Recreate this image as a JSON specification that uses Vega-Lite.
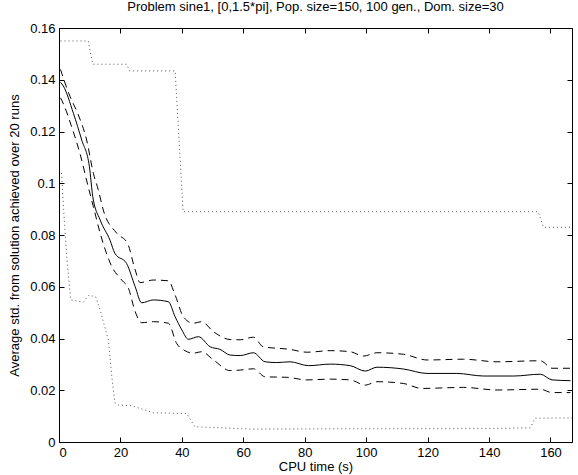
{
  "$schema": "https://vega.github.io/schema/vega-lite/v6.json",
  "autosize": {"type": "none"},
  "padding": {"left": 59, "top": 28, "right": 6, "bottom": 33},
  "width": 513,
  "height": 414,
  "background": "white",
  "title": {"text": "Problem sine1, [0,1.5*pi], Pop. size=150, 100 gen., Dom. size=30", "font": "Liberation Sans", "fontSize": 13, "fontWeight": "normal", "color": "black", "offset": 8},
  "config": {
    "view": {"stroke": "black", "strokeWidth": 1},
    "axis": {"labelFont": "Liberation Sans", "labelFontSize": 13, "labelColor": "black", "titleFont": "Liberation Sans", "titleFontSize": 13, "titleFontWeight": "normal", "titleColor": "black", "grid": false, "domain": false, "tickColor": "black", "tickSize": -5}
  },
  "data": {"values": [
    {"s":"max","t":0.5,"v":0.155},{"s":"max","t":9.5,"v":0.155},{"s":"max","t":11,"v":0.146},{"s":"max","t":22,"v":0.146},{"s":"max","t":23,"v":0.1434},{"s":"max","t":37.8,"v":0.1434},{"s":"max","t":40.4,"v":0.089},{"s":"max","t":156,"v":0.089},{"s":"max","t":157.7,"v":0.083},{"s":"max","t":167,"v":0.083},
    {"s":"min","t":0.8,"v":0.104},{"s":"min","t":1.5,"v":0.09},{"s":"min","t":2.5,"v":0.072},{"s":"min","t":3.8,"v":0.055},{"s":"min","t":7.9,"v":0.054},{"s":"min","t":9.8,"v":0.0568},{"s":"min","t":12,"v":0.056},{"s":"min","t":13.4,"v":0.051},{"s":"min","t":15,"v":0.044},{"s":"min","t":16.1,"v":0.0394},{"s":"min","t":17.2,"v":0.0252},{"s":"min","t":18.2,"v":0.0151},{"s":"min","t":19.3,"v":0.0143},{"s":"min","t":23.7,"v":0.014},{"s":"min","t":30.7,"v":0.0113},{"s":"min","t":41.6,"v":0.011},{"s":"min","t":44.2,"v":0.0059},{"s":"min","t":62,"v":0.005},{"s":"min","t":140,"v":0.0052},{"s":"min","t":153.4,"v":0.0055},{"s":"min","t":155,"v":0.0092},{"s":"min","t":167,"v":0.0093},
    {"s":"mean","t":0.5,"v":0.139},{"s":"mean","t":1.4,"v":0.1376},{"s":"mean","t":4.7,"v":0.127},{"s":"mean","t":7.4,"v":0.1167},{"s":"mean","t":9.9,"v":0.1064},{"s":"mean","t":11,"v":0.0948},{"s":"mean","t":13.4,"v":0.0858},{"s":"mean","t":16.6,"v":0.078},{"s":"mean","t":18.2,"v":0.0729},{"s":"mean","t":22,"v":0.069},{"s":"mean","t":24.8,"v":0.06},{"s":"mean","t":26.9,"v":0.0538},{"s":"mean","t":30.7,"v":0.0549},{"s":"mean","t":35.6,"v":0.0542},{"s":"mean","t":37.8,"v":0.0484},{"s":"mean","t":40,"v":0.0433},{"s":"mean","t":42.1,"v":0.0397},{"s":"mean","t":45.4,"v":0.0407},{"s":"mean","t":49.2,"v":0.0368},{"s":"mean","t":52.4,"v":0.0358},{"s":"mean","t":55.7,"v":0.0336},{"s":"mean","t":59,"v":0.0334},{"s":"mean","t":63.3,"v":0.0345},{"s":"mean","t":67.1,"v":0.031},{"s":"mean","t":70.9,"v":0.0307},{"s":"mean","t":75.2,"v":0.031},{"s":"mean","t":81.2,"v":0.0295},{"s":"mean","t":88.3,"v":0.0301},{"s":"mean","t":94.8,"v":0.0295},{"s":"mean","t":99.7,"v":0.0274},{"s":"mean","t":103.5,"v":0.0289},{"s":"mean","t":112.2,"v":0.0282},{"s":"mean","t":119.8,"v":0.0265},{"s":"mean","t":129.5,"v":0.0265},{"s":"mean","t":138.2,"v":0.0255},{"s":"mean","t":148,"v":0.0255},{"s":"mean","t":156.7,"v":0.0262},{"s":"mean","t":160.5,"v":0.024},{"s":"mean","t":166.5,"v":0.0237},
    {"s":"upper","t":0.5,"v":0.144},{"s":"upper","t":0.9,"v":0.1425},{"s":"upper","t":3.6,"v":0.1335},{"s":"upper","t":6.3,"v":0.1264},{"s":"upper","t":9,"v":0.1167},{"s":"upper","t":11.2,"v":0.1038},{"s":"upper","t":12.8,"v":0.0974},{"s":"upper","t":14.4,"v":0.0897},{"s":"upper","t":18.8,"v":0.0807},{"s":"upper","t":22.3,"v":0.0768},{"s":"upper","t":24.8,"v":0.0665},{"s":"upper","t":26.4,"v":0.0616},{"s":"upper","t":30.7,"v":0.0626},{"s":"upper","t":35.6,"v":0.0623},{"s":"upper","t":37.8,"v":0.0568},{"s":"upper","t":40.5,"v":0.0484},{"s":"upper","t":43.7,"v":0.0459},{"s":"upper","t":46.4,"v":0.0465},{"s":"upper","t":50.3,"v":0.0426},{"s":"upper","t":55.7,"v":0.0396},{"s":"upper","t":59,"v":0.0395},{"s":"upper","t":63.3,"v":0.0405},{"s":"upper","t":66.5,"v":0.0368},{"s":"upper","t":75.2,"v":0.0358},{"s":"upper","t":80.7,"v":0.0347},{"s":"upper","t":88.3,"v":0.0353},{"s":"upper","t":94.8,"v":0.0349},{"s":"upper","t":99.1,"v":0.0332},{"s":"upper","t":103.5,"v":0.0345},{"s":"upper","t":112.2,"v":0.0339},{"s":"upper","t":119.8,"v":0.0317},{"s":"upper","t":131.7,"v":0.032},{"s":"upper","t":142.6,"v":0.031},{"s":"upper","t":156.7,"v":0.0314},{"s":"upper","t":160.5,"v":0.0285},{"s":"upper","t":166.5,"v":0.0285},
    {"s":"lower","t":0.5,"v":0.133},{"s":"lower","t":1.5,"v":0.1305},{"s":"lower","t":4.1,"v":0.1219},{"s":"lower","t":6.8,"v":0.1116},{"s":"lower","t":9.5,"v":0.0987},{"s":"lower","t":11.2,"v":0.0909},{"s":"lower","t":13.4,"v":0.0807},{"s":"lower","t":17.2,"v":0.0678},{"s":"lower","t":20.4,"v":0.0626},{"s":"lower","t":22.6,"v":0.0594},{"s":"lower","t":24.8,"v":0.0504},{"s":"lower","t":26.9,"v":0.0461},{"s":"lower","t":30.7,"v":0.0465},{"s":"lower","t":35.6,"v":0.0459},{"s":"lower","t":38.3,"v":0.0381},{"s":"lower","t":41,"v":0.0353},{"s":"lower","t":43.7,"v":0.0343},{"s":"lower","t":46.4,"v":0.0349},{"s":"lower","t":50.3,"v":0.0317},{"s":"lower","t":55.7,"v":0.0276},{"s":"lower","t":59,"v":0.0278},{"s":"lower","t":63.3,"v":0.0283},{"s":"lower","t":67.1,"v":0.0252},{"s":"lower","t":74.2,"v":0.025},{"s":"lower","t":80.7,"v":0.024},{"s":"lower","t":88.3,"v":0.0243},{"s":"lower","t":94.8,"v":0.024},{"s":"lower","t":99.7,"v":0.022},{"s":"lower","t":103.5,"v":0.0233},{"s":"lower","t":112.2,"v":0.0226},{"s":"lower","t":118.1,"v":0.0207},{"s":"lower","t":131.7,"v":0.0211},{"s":"lower","t":142.6,"v":0.0201},{"s":"lower","t":156.7,"v":0.0204},{"s":"lower","t":160.5,"v":0.0191},{"s":"lower","t":166.5,"v":0.0191}
  ]},
  "resolve": {"axis": {"x": "independent", "y": "independent"}},
  "layer": [
    {
      "transform": [{"filter": "datum.s === 'max' || datum.s === 'min'"}],
      "mark": {"type": "line", "color": "#555555", "strokeWidth": 1, "strokeDash": [1, 3], "clip": true},
      "encoding": {
        "detail": {"field": "s"},
        "x": {"field": "t", "type": "quantitative", "scale": {"domain": [0, 167], "nice": false, "zero": false}, "axis": {"title": "CPU time (s)", "values": [0,20,40,60,80,100,120,140,160], "labelPadding": 9, "titlePadding": 1}},
        "y": {"field": "v", "type": "quantitative", "scale": {"domain": [0, 0.16], "nice": false}, "axis": {"title": "Average std. from solution achieved over 20 runs", "values": [0,0.02,0.04,0.06,0.08,0.1,0.12,0.14,0.16], "format": "~g", "labelPadding": 9, "titlePadding": 8}}
      }
    },
    {
      "transform": [{"filter": "datum.s === 'upper' || datum.s === 'lower'"}],
      "mark": {"type": "line", "color": "black", "strokeWidth": 1, "strokeDash": [7, 5], "interpolate": "monotone", "clip": true},
      "encoding": {
        "detail": {"field": "s"},
        "x": {"field": "t", "type": "quantitative", "axis": {"orient": "top", "labels": false, "title": null, "values": [0,20,40,60,80,100,120,140,160]}},
        "y": {"field": "v", "type": "quantitative", "axis": {"orient": "right", "labels": false, "title": null, "values": [0,0.02,0.04,0.06,0.08,0.1,0.12,0.14,0.16]}}
      }
    },
    {
      "transform": [{"filter": "datum.s === 'mean'"}],
      "mark": {"type": "line", "color": "black", "strokeWidth": 1, "interpolate": "monotone", "clip": true},
      "encoding": {
        "x": {"field": "t", "type": "quantitative", "axis": null},
        "y": {"field": "v", "type": "quantitative", "axis": null}
      }
    }
  ]
}
